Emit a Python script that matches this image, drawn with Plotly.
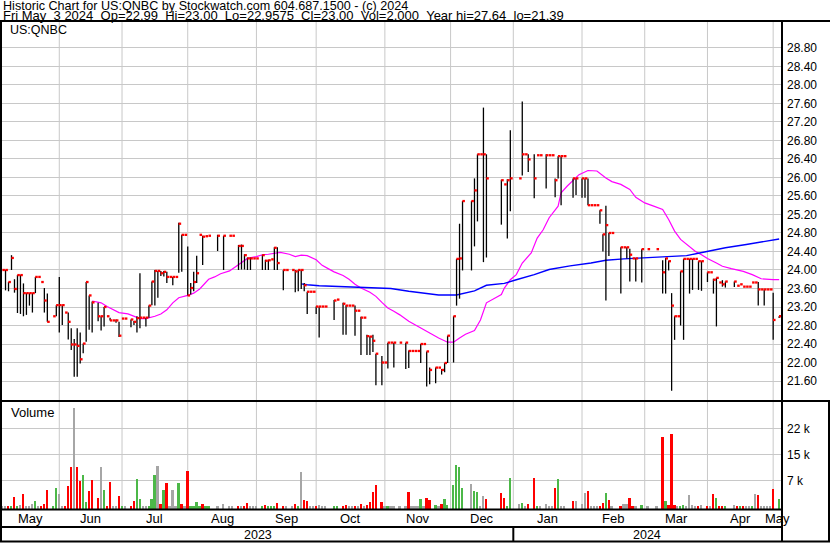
import plotly.graph_objects as go

W, H = 830, 543

# ---------------- data (weekday slots: 0 = Thu 2023-05-04 ... 261 = Fri 2024-05-03) ----------------
highs = [
    None, 24.00, 24.00, 23.74, 24.32, 23.80, 23.89, 23.89, 23.71, 23.50,
    23.50, 23.50, 23.85, 23.85, 23.74, 23.61, 23.49, None, 23.00, 23.24,
    23.85, 23.24, 23.08, 23.08, 22.74, 22.51, 22.74, 22.65, 22.41, 23.74,
    23.45, 23.32, None, 23.29, 23.00, 23.20, 23.00, 22.97, 22.91, 22.93,
    22.88, 22.95, 22.95, None, 22.93, 22.90, 23.00, 23.93, 22.97, 22.97,
    23.23, 23.75, 24.00, 23.98, 23.98, 23.98, 23.96, 23.85, 23.85, 23.85,
    25.02, 24.76, 24.76, 24.51, 23.72, 23.96, 24.31, 24.76, 24.74, 24.73,
    24.74, None, None, 24.76, None, 24.74, None, 24.74, 24.74, None,
    24.54, 24.55, 24.34, 24.27, 24.27, 24.25, 24.25, None, 24.33, 24.22,
    24.22, 24.23, 24.49, 24.49, None, 24.00, 24.00, None, 24.00, 24.00,
    24.00, 24.00, 23.72, 23.53, 23.53, 23.53, 23.21, 23.21, 23.21, 23.21,
    None, None, 23.35, 23.36, None, 23.29, 23.24, 23.23, 23.23, 23.23,
    23.12, 22.99, 22.97, 22.60, 22.57, 22.60, 22.19, None, 22.14, 22.00,
    22.43, 22.43, 22.43, None, 22.43, None, 22.43, 22.26, 22.25, 22.25,
    22.25, 22.40, 22.40, 22.24, 21.89, None, 21.89, 21.89, 21.86, 21.99,
    22.58, None, 23.00, 24.24, 25.00, 25.49, None, None, 25.49, 25.98,
    26.50, 26.50, 27.51, 26.50, None, None, None, None, 25.95, 25.85,
    25.96, 27.02, None, None, 25.98, 27.64, 26.50, 26.50, None, 26.50,
    26.48, 26.48, None, 26.50, 26.48, 26.48, 25.98, 26.46, 26.46, 26.46,
    None, None, 25.98, 25.98, None, 25.98, 25.98, 25.98, 25.40, 25.40,
    25.40, 25.29, 24.77, 25.39, 24.80, 24.80, None, None, 24.49, 24.49,
    24.49, 24.46, 24.25, 24.25, None, 24.45, None, 24.45, None, None,
    24.45, None, 24.21, 24.26, 24.20, 23.50, 23.00, 23.00, 23.97, 24.24,
    24.24, 24.24, 24.24, 24.24, 24.19, 24.19, None, 23.95, 23.95, 23.81,
    23.83, 23.73, 23.78, 23.75, None, None, 23.75, 23.66, 23.69, 23.64,
    23.64, 23.64, 23.73, 23.73, 23.74, 23.58, 23.58, 23.58, 23.58, 23.51,
    None, 23.00,
]
lows = [
    None, 24.00, 23.56, 23.54, 24.00, 23.51, 23.07, 23.05, 23.00, 23.03,
    23.23, 23.08, 23.50, 23.85, 23.74, 23.08, 22.88, None, 23.00, 23.00,
    22.65, 22.81, 23.08, 22.50, 22.27, 21.69, 21.69, 21.98, 22.20, 22.45,
    22.71, 22.65, None, 22.89, 22.69, 22.78, 23.00, 22.91, 22.91, 22.86,
    22.55, 22.95, 22.95, None, 22.76, 22.81, 22.65, 22.74, 22.97, 22.78,
    22.97, 23.24, 23.23, 23.40, 23.87, 23.86, 23.72, 23.85, 23.67, 23.85,
    23.94, 23.96, 24.76, 23.45, 23.47, 23.54, 23.72, 24.76, 24.11, 24.73,
    24.74, None, None, 24.41, None, 24.00, None, 24.74, 24.74, None,
    24.00, 24.01, 24.01, 24.00, 24.00, 24.25, 24.25, None, 24.00, 24.00,
    24.00, 24.23, 24.00, 24.00, None, 23.56, 24.00, None, 24.00, 23.52,
    23.54, 23.59, 23.54, 23.05, 23.53, 23.53, 23.05, 22.54, 23.21, 23.21,
    None, None, 22.92, 23.36, None, 22.60, 22.60, 23.23, 23.23, 22.58,
    23.12, 22.16, 22.97, 22.16, 22.16, 22.23, 21.51, None, 21.51, 22.00,
    21.87, 22.43, 21.89, None, 22.43, None, 21.86, 21.88, 22.25, 22.25,
    22.25, 21.99, 22.40, 21.48, 21.53, None, 21.55, 21.89, 21.74, 21.79,
    21.99, None, 22.00, 23.23, 23.38, 23.99, None, None, 23.99, 24.51,
    25.05, 26.50, 24.17, 24.27, None, None, None, None, 24.98, 25.85,
    24.68, 25.27, None, None, 25.98, 26.04, 26.50, 26.12, None, 25.55,
    26.48, 26.48, None, 25.76, 26.48, 26.48, 25.57, 25.98, 25.40, 26.46,
    None, None, 25.56, 25.62, None, 25.56, 25.56, 25.40, 25.40, 25.40,
    25.40, 25.00, 24.40, 23.34, 24.30, 24.80, None, None, 23.49, 24.49,
    24.25, 23.75, 24.25, 23.75, None, 23.73, None, 24.45, None, None,
    24.45, None, 23.49, 23.49, 23.99, 21.39, 22.49, 23.00, 22.80, 22.49,
    24.24, 23.49, 23.57, 24.24, 23.57, 23.55, None, 23.74, 23.95, 23.49,
    22.78, 23.73, 23.64, 23.62, None, None, 23.63, 23.66, 23.69, 23.64,
    23.64, 23.64, 23.73, 23.73, 23.23, 23.58, 23.23, 23.58, 23.58, 22.49,
    None, 22.96,
]
closes = [
    None, 24.00, 24.00, 23.74, 24.26, 23.59, 23.89, 23.89, 23.50, 23.50,
    23.50, 23.50, 23.85, 23.85, 23.74, 23.34, 22.88, None, 23.00, 23.24,
    23.24, 23.24, 23.08, 22.88, 22.39, 22.39, 22.36, 22.07, 22.41, 23.74,
    23.45, 23.30, None, 23.00, 23.00, 23.20, 23.00, 22.91, 22.91, 22.91,
    22.58, 22.95, 22.95, None, 22.93, 22.88, 22.96, 22.97, 22.97, 22.97,
    23.23, 23.75, 23.98, 23.98, 23.93, 23.96, 23.85, 23.85, 23.85, 23.85,
    25.00, 24.76, 24.76, 23.45, 23.61, 23.74, 23.93, 24.76, 24.72, 24.73,
    24.74, None, None, 24.74, None, 24.74, None, 24.74, 24.74, None,
    24.52, 24.52, 24.32, 24.25, 24.25, 24.25, 24.25, None, 24.32, 24.20,
    24.21, 24.23, 24.48, 24.15, None, 24.00, 24.00, None, 24.00, 23.97,
    24.00, 24.00, 23.67, 23.53, 23.53, 23.53, 23.21, 23.21, 23.21, 23.21,
    None, None, 23.34, 23.36, None, 23.27, 23.23, 23.23, 23.23, 23.12,
    23.12, 22.97, 22.97, 22.57, 22.56, 22.47, 22.19, None, 22.00, 22.00,
    22.43, 22.43, 22.43, None, 22.43, None, 22.43, 22.25, 22.25, 22.25,
    22.25, 22.40, 22.40, 22.24, 21.84, None, 21.89, 21.89, 21.84, 21.99,
    22.58, None, 23.00, 24.24, 24.25, 25.49, None, None, 25.49, 25.72,
    26.50, 26.50, 26.50, 25.98, None, None, None, None, 25.94, 25.85,
    25.94, 25.98, None, None, 25.98, 26.50, 26.50, 26.39, None, 25.98,
    26.48, 26.48, None, 26.48, 26.48, 26.48, 25.94, 26.46, 26.46, 26.46,
    None, None, 25.98, 25.98, None, 25.98, 25.98, 25.40, 25.40, 25.40,
    25.40, 25.29, 24.77, 24.97, 24.80, 24.80, None, None, 24.49, 24.49,
    24.49, 24.33, 24.25, 24.25, None, 24.45, None, 24.45, None, None,
    24.45, None, 23.95, 24.25, 24.19, 23.23, 23.00, 23.00, 23.97, 24.24,
    24.24, 24.24, 24.24, 24.24, 24.19, 24.19, None, 23.95, 23.95, 23.79,
    23.83, 23.73, 23.69, 23.75, None, None, 23.75, 23.66, 23.69, 23.64,
    23.64, 23.64, 23.73, 23.73, 23.58, 23.58, 23.58, 23.58, 23.58, 22.92,
    None, 23.00,
]
volumes = [
    None, 100, 100, 100, 100, 2600, 100, 500, 3500, 100,
    100, 700, 1500, 100, 100, 700, 4600, None, 100, 5200,
    3500, 100, 100, 5700, 11100, 27800, 11100, 7100, 8800, 1300,
    4400, 7300, None, 2300, 11100, 4600, 100, 6900, 100, 100,
    2900, 100, 100, None, 100, 1500, 7700, 2100, 100, 100,
    100, 2100, 8800, 11400, 700, 4600, 6600, 100, 4600, 100,
    6600, 700, 100, 9900, 100, 100, 1200, 100, 700, 100,
    100, None, None, 100, None, 700, None, 100, 100, None,
    100, 100, 100, 900, 100, 100, 100, None, 100, 400,
    100, 100, 100, 900, None, 100, 100, None, 100, 700,
    100, 9800, 1800, 1500, 100, 100, 100, 400, 100, 100,
    None, None, 100, 100, None, 100, 300, 100, 100, 100,
    100, 700, 100, 400, 1200, 4000, 6000, None, 1200, 100,
    100, 100, 100, None, 100, None, 100, 4000, 100, 100,
    100, 2100, 100, 2300, 1800, None, 400, 100, 700, 2100,
    400, None, 6000, 11700, 11100, 5200, None, None, 6300, 4400,
    4000, 100, 2900, 2100, None, None, None, None, 3800, 2300,
    100, 8000, None, None, 700, 900, 100, 700, None, 8000,
    100, 100, None, 700, 100, 100, 5200, 7700, 100, 100,
    None, None, 1500, 1500, None, 700, 3800, 4400, 100, 100,
    100, 100, 900, 3800, 1800, 100, None, None, 100, 700,
    700, 2300, 100, 100, None, 400, None, 100, None, None,
    100, None, 19600, 1500, 400, 20500, 400, 100, 100, 400,
    100, 3200, 400, 100, 100, 400, None, 100, 100, 3500,
    2300, 100, 100, 100, None, None, 400, 100, 100, 100,
    100, 100, 100, 3500, 3200, 100, 100, 100, 100, 4900,
    None, 2000,
]

# moving averages (slot, price)
ma_fast_days = [31, 34, 36, 38, 40, 43, 45, 47, 49, 52, 54, 56, 58, 60, 63, 65, 67, 70, 72, 74,
                77, 79, 81, 83, 86, 88, 90, 92, 94, 97, 99, 101, 103, 106, 108, 110, 112, 115, 117, 119,
                121, 124, 126, 128, 130, 132, 134, 137, 141, 144, 147, 150, 152, 154, 156, 159, 161, 163, 165, 168,
                169, 171, 173, 175, 178, 180, 182, 184, 187, 188, 190, 192, 194, 197, 200, 203, 205, 208, 211, 213,
                216, 219, 222, 224, 226, 228, 231, 233, 235, 237, 240, 242, 245, 249, 252, 255, 259, 261]
ma_fast = [23.33, 23.29, 23.21, 23.14, 23.08, 23.05, 23.00, 22.95, 22.95, 23.00, 23.05, 23.14, 23.29, 23.40, 23.45, 23.50, 23.59, 23.80, 23.85, 23.92,
           23.98, 24.07, 24.16, 24.25, 24.29, 24.33, 24.34, 24.36, 24.38, 24.34, 24.29, 24.32, 24.31, 24.22, 24.10, 24.03, 23.96, 23.88, 23.80, 23.69,
           23.61, 23.52, 23.43, 23.30, 23.18, 23.11, 23.03, 22.89, 22.74, 22.64, 22.53, 22.44, 22.44, 22.53, 22.61, 22.69, 22.92, 23.29, 23.36, 23.47,
           23.61, 23.79, 23.90, 24.15, 24.37, 24.69, 24.87, 25.13, 25.38, 25.67, 25.81, 25.94, 26.06, 26.15, 26.14, 25.99, 25.91, 25.85, 25.74, 25.57,
           25.45, 25.38, 25.31, 25.09, 24.84, 24.66, 24.51, 24.40, 24.33, 24.25, 24.15, 24.08, 24.03, 23.97, 23.90, 23.81, 23.79, 23.79]
ma_slow_days = [101, 103, 107, 111, 116, 122, 126, 131, 137, 144, 147, 153, 159, 163, 169, 173, 179, 184, 191, 198,
                203, 209, 216, 223, 230, 236, 243, 250, 256, 261]
ma_slow = [23.70, 23.68, 23.66, 23.65, 23.64, 23.62, 23.60, 23.60, 23.54, 23.48, 23.46, 23.46, 23.55, 23.67, 23.71, 23.79, 23.90, 24.01, 24.09, 24.15,
           24.21, 24.24, 24.26, 24.28, 24.31, 24.39, 24.48, 24.55, 24.62, 24.67]

month_labels = ["May", "Jun", "Jul", "Aug", "Sep", "Oct", "Nov", "Dec", "Jan", "Feb", "Mar", "Apr", "May"]
month_starts = [20, 41, 63, 86, 106, 129, 151, 172, 195, 216, 237, 259]
year_labels = ["2023", "2024"]
year_start = 172
price_ticks = [21.6, 22.0, 22.4, 22.8, 23.2, 23.6, 24.0, 24.4, 24.8, 25.2, 25.6, 26.0, 26.4, 26.8, 27.2, 27.6, 28.0, 28.4, 28.8]
vol_ticks = [7333, 14667, 22000]
vol_tick_text = ["7 k", "15 k", "22 k"]

symbol_label = "US:QNBC"
header1 = "Historic Chart for US:QNBC by Stockwatch.com 604.687.1500 - (c) 2024"
header2 = "Fri May \u00a03 2024 \u00a0Op=22.99 \u00a0Hi=23.00 \u00a0Lo=22.9575 \u00a0Cl=23.00 \u00a0Vol=2,000 \u00a0Year hi=27.64 \u00a0lo=21.39"

# ---------------- layout constants (pixels) ----------------
PLOT_L, PLOT_R = 2, 781
PRICE_T, PRICE_B = 22, 400
VOL_T, VOL_B = 402, 509.5
X_RANGE = [0.82, 261.62]
PRICE_RANGE = [21.19, 29.36]
VOL_RANGE = [-900, 29420]
FONT = "Liberation Sans, Arial, sans-serif"
RED, GREEN, GRAY = "#ff0000", "#4cb848", "#a6a6a6"
GRID = "#c8c8c8"


def fx(px):
    return px / W


def fy(py):
    return 1 - py / H


days = list(range(len(closes)))

# volume colours from close-to-close change
vol_x, vol_y, vol_c = [], [], []
prev = None
for d, c, v in zip(days, closes, volumes):
    if c is None or v is None:
        continue
    if prev is None or abs(c - prev) < 1e-9:
        col = GRAY
    elif c > prev:
        col = GREEN
    else:
        col = RED
    prev = c
    vol_x.append(d)
    vol_y.append(v - VOL_RANGE[0])
    vol_c.append(col)

# high-low strokes
hl_x, hl_y = [], []
for d, h, l in zip(days, highs, lows):
    if h is None or h == l:
        continue
    hl_x += [d, d, None]
    hl_y += [l, h, None]

# close ticks
cl_x, cl_y = [], []
for d, c in zip(days, closes):
    if c is None:
        continue
    cl_x += [d - 0.05, d + 0.8, None]
    cl_y += [c, c, None]

fig = go.Figure()
fig.add_trace(go.Bar(x=vol_x, y=vol_y, base=VOL_RANGE[0], marker=dict(color=vol_c, line=dict(width=0)),
                     width=0.6, xaxis="x2", yaxis="y2", showlegend=False))
fig.add_trace(go.Scatter(x=ma_fast_days, y=ma_fast, mode="lines", line=dict(color="#ff00ff", width=1.2),
                         showlegend=False))
fig.add_trace(go.Scatter(x=ma_slow_days, y=ma_slow, mode="lines", line=dict(color="#0000ff", width=1.4),
                         showlegend=False))
fig.add_trace(go.Scatter(x=hl_x, y=hl_y, mode="lines", line=dict(color="#000000", width=1.3),
                         connectgaps=False, showlegend=False))
fig.add_trace(go.Scatter(x=cl_x, y=cl_y, mode="lines", line=dict(color=RED, width=2.3),
                         connectgaps=False, showlegend=False))

shapes = []
# month grid lines
for m in month_starts:
    shapes.append(dict(type="line", xref="x", yref="paper", x0=m, x1=m, y0=fy(PRICE_B), y1=fy(PRICE_T),
                       line=dict(color=GRID, width=1), layer="below"))
    shapes.append(dict(type="line", xref="x", yref="paper", x0=m, x1=m, y0=fy(VOL_B), y1=fy(VOL_T),
                       line=dict(color=GRID, width=1), layer="below"))


def hline(y, x0, x1, w=2):
    shapes.append(dict(type="line", xref="paper", yref="paper", x0=fx(x0), x1=fx(x1), y0=fy(y), y1=fy(y),
                       line=dict(color="black", width=w)))


def vline(x, y0, y1, w=2):
    shapes.append(dict(type="line", xref="paper", yref="paper", x0=fx(x), x1=fx(x), y0=fy(y0), y1=fy(y1),
                       line=dict(color="black", width=w)))


hline(21, 0, 830)
hline(401, 0, 830)
hline(509.5, 0, 782)
hline(527, 0, 782)
hline(541.5, 0, 830)
vline(782, 20, 542)
vline(829, 401, 542)
vline(1, 20, 542)
shapes.append(dict(type="line", xref="x", yref="paper", x0=year_start, x1=year_start, y0=fy(541.5), y1=fy(527),
                   line=dict(color="black", width=2)))

annotations = [
    dict(text=header1, x=fx(1), y=fy(6.0), xref="paper", yref="paper", xanchor="left", yanchor="middle",
         showarrow=False, font=dict(family=FONT, size=12.6, color="black")),
    dict(text=header2, x=fx(1), y=fy(15.2), xref="paper", yref="paper", xanchor="left", yanchor="middle",
         showarrow=False, font=dict(family=FONT, size=13, color="black")),
    dict(text=symbol_label, x=fx(8), y=fy(29.5), xref="paper", yref="paper", xanchor="left", yanchor="middle",
         showarrow=False, font=dict(family=FONT, size=12.5, color="black")),
    dict(text="Volume", x=fx(9), y=fy(413), xref="paper", yref="paper", xanchor="left", yanchor="middle",
         showarrow=False, font=dict(family=FONT, size=13, color="black")),
]
bounds = [X_RANGE[0]] + month_starts + [X_RANGE[1]]
for i, lab in enumerate(month_labels):
    annotations.append(dict(text=lab, x=(bounds[i] + bounds[i + 1]) / 2, y=fy(518.5), xref="x", yref="paper",
                            xanchor="center", yanchor="middle", showarrow=False,
                            font=dict(family=FONT, size=13, color="black")))
ybounds = [X_RANGE[0], year_start, X_RANGE[1]]
for i, lab in enumerate(year_labels):
    annotations.append(dict(text=lab, x=(ybounds[i] + ybounds[i + 1]) / 2, y=fy(534.5), xref="x", yref="paper",
                            xanchor="center", yanchor="middle", showarrow=False,
                            font=dict(family=FONT, size=12.5, color="black")))

fig.update_layout(
    width=W, height=H, autosize=False,
    margin=dict(l=0, r=0, t=0, b=0, pad=0),
    paper_bgcolor="white", plot_bgcolor="white",
    hovermode=False, showlegend=False, bargap=0,
    font=dict(family=FONT, size=12, color="black"),
    xaxis=dict(domain=[fx(PLOT_L), fx(PLOT_R)], range=X_RANGE, showgrid=False, zeroline=False,
               showticklabels=False, ticks="", anchor="y", fixedrange=True),
    xaxis2=dict(domain=[fx(PLOT_L), fx(PLOT_R)], range=X_RANGE, matches="x", showgrid=False, zeroline=False,
                showticklabels=False, ticks="", anchor="y2", fixedrange=True),
    yaxis=dict(domain=[fy(PRICE_B), fy(PRICE_T)], range=PRICE_RANGE, side="right", anchor="x",
               tickvals=price_ticks, ticktext=["%.2f" % t for t in price_ticks],
               showgrid=True, gridcolor=GRID, gridwidth=1, zeroline=False, ticks="",
               ticklabelstandoff=5, tickfont=dict(family=FONT, size=12, color="black"), fixedrange=True),
    yaxis2=dict(domain=[fy(VOL_B), fy(VOL_T)], range=VOL_RANGE, side="right", anchor="x2",
                tickvals=vol_ticks, ticktext=vol_tick_text,
                showgrid=True, gridcolor=GRID, gridwidth=1, zeroline=False, ticks="",
                ticklabelstandoff=5, tickfont=dict(family=FONT, size=12, color="black"), fixedrange=True),
    shapes=shapes, annotations=annotations,
)

fig.write_html("out.html", config={"displayModeBar": False},
               post_script="document.body.style.margin='0px';document.body.style.overflow='hidden';")
